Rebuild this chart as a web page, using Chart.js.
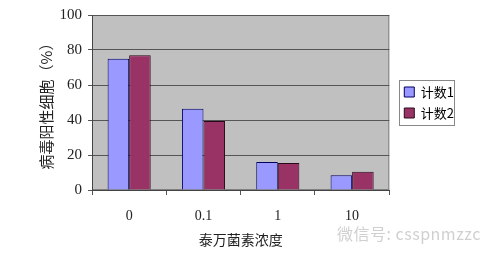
<!DOCTYPE html>
<html>
<head>
<meta charset="utf-8">
<script src="https://cdn.jsdelivr.net/npm/chart.js@4/dist/chart.umd.min.js"></script>
<style>
  body { margin: 0; background: #fff; }
  #wrap { position: relative; width: 499px; height: 260px; }
  #mark { position: absolute; left: 337px; top: 221px; font: 16px "Noto Sans CJK SC", sans-serif; color: #d0d0d0; letter-spacing: 0.5px; }
</style>
</head>
<body>
<div id="wrap">
  <canvas id="c"></canvas>
  <div id="mark">微信号: csspnmzzc</div>
</div>
<script>
const labels = ['0', '0.1', '1', '10'];
const count1 = [75, 46.5, 16, 8.5];
const count2 = [77, 39.5, 15.5, 10.5];
const yTicks = [0, 20, 40, 60, 80, 100];

const serif = "'Liberation Serif', 'Noto Sans CJK SC', serif";
const legendPad = 8;

// grey plot background + thin frame
const plotBg = {
  id: 'plotBg',
  beforeDraw(chart) {
    const { ctx, chartArea: a } = chart;
    ctx.save();
    ctx.fillStyle = '#c0c0c0';
    ctx.fillRect(a.left, a.top, a.right - a.left, a.bottom - a.top);
    ctx.strokeStyle = '#808080';
    ctx.lineWidth = 1;
    ctx.strokeRect(a.left + 0.5, a.top + 0.5, a.right - a.left - 1, a.bottom - a.top - 1);
    ctx.restore();
  }
};

// move legend up/right a bit and box it in
const legendBox = {
  id: 'legendBox',
  afterLayout(chart) {
    const l = chart.legend;
    l.top -= 31; l.bottom -= 31;
    l.left += 7; l.right += 7;
  },
  afterDraw(chart) {
    const l = chart.legend;
    const cy = Math.round((l.top + l.bottom) / 2);
    const x0 = Math.round(l.left + legendPad) - 5;
    const ctx = chart.ctx;
    ctx.save();
    ctx.strokeStyle = '#888';
    ctx.lineWidth = 1;
    ctx.strokeRect(x0 + 0.5, cy - 22.5, 55, 45);
    ctx.restore();
  }
};

const data = {
  labels: labels,
  datasets: [{
    label: '计数1',
    data: count1,
    backgroundColor: '#9999ff',
    borderColor: '#000060',
    borderWidth: 1
  }, {
    label: '计数2',
    data: count2,
    backgroundColor: '#993366',
    borderColor: '#2a0a1a',
    borderWidth: 1
  }]
};

const config = {
  type: 'bar',
  data: data,
  plugins: [plotBg, legendBox],
  options: {
    responsive: true,
    maintainAspectRatio: false,
    animation: false,
    layout: { padding: { left: 35, top: 15, right: 42, bottom: 8 } },
    datasets: { bar: { barPercentage: 1, categoryPercentage: 0.58 } },
    plugins: {
      tooltip: { enabled: false },
      legend: {
        position: 'right',
        labels: {
          boxWidth: 10, boxHeight: 10, padding: legendPad,
          color: '#000',
          font: { family: "'Noto Sans CJK SC', sans-serif", size: 13 }
        }
      }
    },
    scales: {
      x: {
        afterFit(s) { s.height = 62; },
        grid: { drawOnChartArea: false, drawTicks: true, tickLength: 5, color: '#555' },
        border: { color: '#444', width: 1 },
        ticks: { color: '#222', padding: 13, font: { family: serif, size: 14 } },
        title: {
          display: true, text: '泰万菌素浓度', color: '#222',
          font: { family: "'Noto Sans CJK SC', sans-serif", size: 14 }, padding: 4
        }
      },
      y: {
        min: 0, max: 100,
        afterFit(s) { s.width = 57; },
        afterBuildTicks(s) { s.ticks = yTicks.map(v => ({ value: v })); },
        grid: { color: '#555', tickLength: 4, lineWidth: 1 },
        border: { color: '#444', width: 1 },
        ticks: { color: '#222', padding: 6, font: { family: serif, size: 15 } },
        title: {
          display: true, text: '病毒阳性细胞（%）', color: '#222',
          font: { family: "'Noto Sans CJK SC', sans-serif", size: 15 }, padding: 2
        }
      }
    }
  }
};

const myChart = new Chart(document.getElementById('c'), config);
</script>
</body>
</html>
